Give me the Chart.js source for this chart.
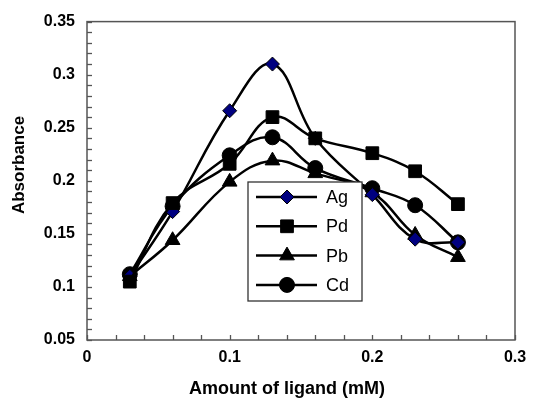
<!DOCTYPE html>
<html>
<head>
<meta charset="utf-8">
<script src="https://cdn.jsdelivr.net/npm/chart.js@4.4.0/dist/chart.umd.min.js"></script>
<style>
    html, body { margin: 0; padding: 0; background: #fff; }
    #wrap { width: 536px; height: 399px; }
</style>
</head>
<body>
<div id="wrap"><canvas id="graph"></canvas></div>
<script>
/* values */
const ligand = [0.03, 0.06, 0.1, 0.13, 0.16, 0.2, 0.23, 0.26]
const ag = [0.110, 0.171, 0.266, 0.310, 0.240, 0.187, 0.145, 0.142]
const pd = [0.105, 0.179, 0.216, 0.260, 0.240, 0.226, 0.209, 0.178]
const pb = [0.110, 0.144, 0.199, 0.219, 0.207, 0.189, 0.149, 0.128]
const cd = [0.112, 0.176, 0.224, 0.241, 0.212, 0.193, 0.177, 0.142]

const xTickLabels = ["0", "0.1", "0.2", "0.3"]
const yTickLabels = ["0.05", "0.1", "0.15", "0.2", "0.25", "0.3", "0.35"]

const xTitle = "Amount of ligand (mM)"
const yTitle = "Absorbance"

const FONT = "'Liberation Sans', Arial, sans-serif"

const toPoints = (values) => ligand.map((x, i) => ({ x: x, y: values[i] }))

const series = (label, values, style, radius, fill, order) => ({
    label: label,
    data: toPoints(values),
    borderColor: "#000",
    borderWidth: 2.5,
    backgroundColor: fill,
    pointBackgroundColor: fill,
    pointBorderColor: "#000",
    pointBorderWidth: 1,
    pointStyle: style,
    pointRadius: radius,
    tension: 0.4,
    order: order
})

/* inward ticks + frame round the plot */
const frameTicks = {
    id: "frameTicks",
    afterDraw(chart) {
        const { ctx, chartArea: a } = chart
        ctx.save()
        ctx.strokeStyle = "#555"
        ctx.lineWidth = 1.3
        for (const t of chart.scales.x.ticks) {
            const px = Math.round(chart.scales.x.getPixelForValue(t.value)) + 0.5
            ctx.beginPath()
            ctx.moveTo(px, a.bottom)
            ctx.lineTo(px, a.bottom - 5)
            ctx.stroke()
        }
        for (const t of chart.scales.y.ticks) {
            const py = Math.round(chart.scales.y.getPixelForValue(t.value)) + 0.5
            ctx.beginPath()
            ctx.moveTo(a.left, py)
            ctx.lineTo(a.left + 5, py)
            ctx.stroke()
        }
        ctx.lineWidth = 1.5
        ctx.strokeRect(a.left, a.top, a.right - a.left, a.bottom - a.top)

        /* axis titles */
        ctx.fillStyle = "#000"
        ctx.textAlign = "center"
        ctx.textBaseline = "alphabetic"
        ctx.font = "bold 18px " + FONT
        ctx.fillText(xTitle, 287, 394)
        ctx.translate(24, 165)
        ctx.rotate(-Math.PI / 2)
        ctx.font = "bold 17px " + FONT
        ctx.fillText(yTitle, 0, 0)
        ctx.restore()
    }
}

/* boxed legend inside the plot */
const boxLegend = {
    id: "boxLegend",
    afterDraw(chart) {
        const { ctx } = chart
        const box = { x: 248, y: 182, w: 114, h: 119 }
        ctx.save()
        ctx.fillStyle = "#fff"
        ctx.fillRect(box.x, box.y, box.w, box.h)
        ctx.strokeStyle = "#333"
        ctx.lineWidth = 1.3
        ctx.strokeRect(box.x, box.y, box.w, box.h)

        chart.data.datasets.forEach((ds, i) => {
            const y = box.y + 15 + i * 29.3
            ctx.strokeStyle = "#000"
            ctx.lineWidth = 2.5
            ctx.beginPath()
            ctx.moveTo(box.x + 8, y)
            ctx.lineTo(box.x + 69, y)
            ctx.stroke()

            ctx.fillStyle = ds.pointBackgroundColor
            ctx.strokeStyle = "#000"
            ctx.lineWidth = 1
            Chart.helpers.drawPoint(ctx, {
                pointStyle: ds.pointStyle,
                radius: ds.pointRadius,
                rotation: 0,
                borderWidth: 1
            }, box.x + 39, y)

            ctx.fillStyle = "#000"
            ctx.font = "18px " + FONT
            ctx.textAlign = "left"
            ctx.textBaseline = "middle"
            ctx.fillText(ds.label, box.x + 78, y + 1)
        })
        ctx.restore()
    }
}

const data = {
    datasets: [
        series("Ag", ag, "rectRot", 7, "#000080", 1),
        series("Pd", pd, "rect", 9, "#000", 0),
        series("Pb", pb, "triangle", 8.5, "#000", 3),
        series("Cd", cd, "circle", 7.5, "#000", 2)
    ]
}

const config = {
    type: "line",
    data: data,
    plugins: [frameTicks, boxLegend],
    options: {
        responsive: true,
        maintainAspectRatio: false,
        animation: false,
        layout: { padding: { top: 16, right: 21, left: 0, bottom: 0 } },
        plugins: {
            legend: { display: false },
            tooltip: { enabled: false }
        },
        scales: {
            x: {
                type: "linear",
                min: 0,
                max: 0.3,
                afterFit: (s) => { s.height = 59 },
                grid: { display: false, drawTicks: false },
                border: { display: false },
                ticks: {
                    stepSize: 0.02,
                    autoSkip: false,
                    maxRotation: 0,
                    padding: 8,
                    color: "#000",
                    font: { family: FONT, size: 16, weight: "bold" },
                    callback: (v) => {
                        const k = Math.round(v * 100)
                        return k % 10 === 0 ? xTickLabels[k / 10] : ""
                    }
                }
            },
            y: {
                min: 0.05,
                max: 0.35,
                afterFit: (s) => { s.width = 87 },
                grid: { display: false, drawTicks: false },
                border: { display: false },
                ticks: {
                    stepSize: 0.01,
                    autoSkip: false,
                    padding: 12,
                    color: "#000",
                    font: { family: FONT, size: 16, weight: "bold" },
                    callback: (v) => {
                        const k = Math.round(v * 100)
                        return k % 5 === 0 ? yTickLabels[k / 5 - 1] : ""
                    }
                }
            }
        }
    }
}

const chart = new Chart(document.querySelector("#graph"), config)
</script>
</body>
</html>
